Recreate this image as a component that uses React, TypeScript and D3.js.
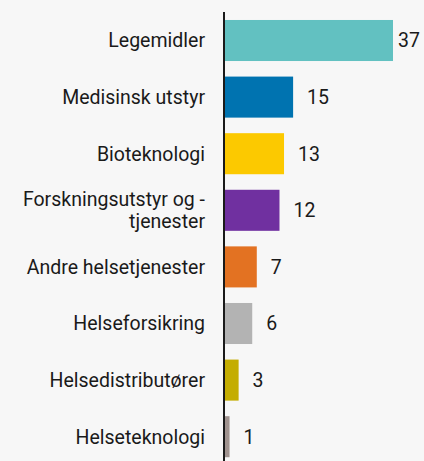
import React from "react";
import * as d3 from "d3";

const categories = [
  "Legemidler",
  "Medisinsk utstyr",
  "Bioteknologi",
  "Forskningsutstyr og -|tjenester",
  "Andre helsetjenester",
  "Helseforsikring",
  "Helsedistributører",
  "Helseteknologi",
];
const values = [37, 15, 13, 12, 7, 6, 3, 1];
const colors = ["#62c1c1", "#0073b0", "#fcc900", "#7030a0", "#e37222", "#b3b3b3", "#c4ad00", "#a0938f"];

const W = 424;
const H = 461;
const axisX = 224;

export default function App() {
  const x = d3.scaleLinear().domain([0, 37]).range([axisX + 1, 393]);
  const y = d3
    .scaleBand<number>()
    .domain(d3.range(values.length))
    .range([12.2, 465])
    .paddingInner(0.275)
    .paddingOuter(0.1375);
  const font = "Roboto, 'Noto Sans', sans-serif";
  const fs = 19.5;
  return (
    <svg
      width={W}
      height={H}
      style={{ position: "absolute", left: 0, top: 0, background: "#f7f7f7" }}
      fontFamily={font}
    >
      <rect width={W} height={H} fill="#f7f7f7" />
      {values.map((v, i) => {
        const y0 = y(i)!;
        const bw = y.bandwidth();
        const cy = y0 + bw / 2;
        const lines = categories[i].split("|");
        const lh = 1.15;
        const lx = Math.min(x(v) + 14, W - 26);
        return (
          <g key={i}>
            <rect x={x(0)} y={y0} width={x(v) - x(0)} height={bw} fill={colors[i]} />
            <text x={205} y={cy} textAnchor="end" fontSize={fs} fill="#1a1a1a">
              {lines.map((l, j) => (
                <tspan
                  key={j}
                  x={205}
                  dy={j === 0 ? `${0.35 - ((lines.length - 1) * lh) / 2}em` : `${lh}em`}
                >
                  {lines.length > 1 && j === 0 ? l.replace(" -", "  -") : l}
                </tspan>
              ))}
            </text>
            <text x={lx} y={cy} dy="0.35em" fontSize={fs} fill="#1a1a1a">
              {v}
            </text>
          </g>
        );
      })}
      <line x1={axisX} x2={axisX} y1={12} y2={H} stroke="#1a1a1a" strokeWidth={2} />
    </svg>
  );
}
